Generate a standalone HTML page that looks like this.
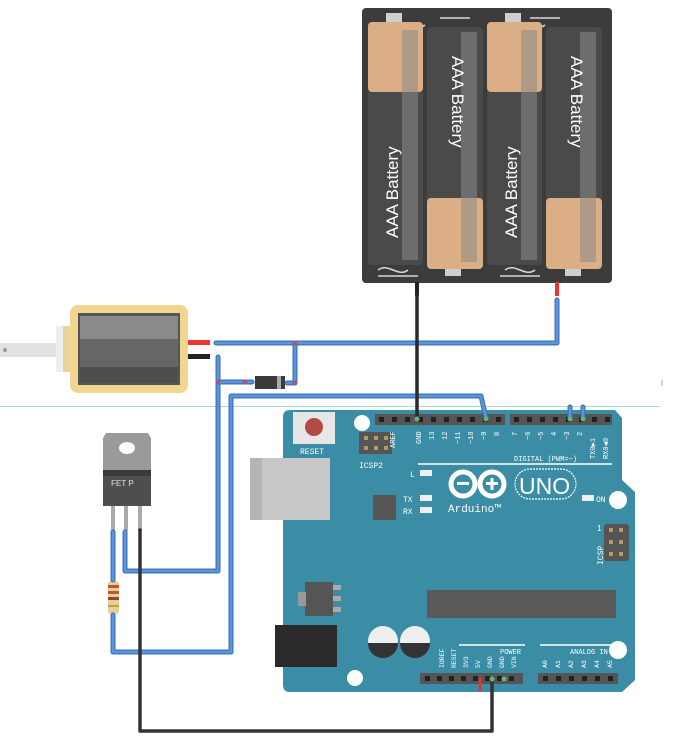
<!DOCTYPE html>
<html><head><meta charset="utf-8"><style>
html,body{margin:0;padding:0;background:#fff;}
svg{display:block;font-family:"Liberation Sans",sans-serif;}
</style></head><body>
<svg width="678" height="750" viewBox="0 0 678 750" xmlns="http://www.w3.org/2000/svg">
<line x1="0" y1="406.5" x2="660" y2="406.5" stroke="#a9d7df" stroke-width="1"/>
<line x1="662" y1="380" x2="662" y2="386" stroke="#aaa" stroke-width="1"/>

<!-- Battery pack -->
<rect x="362" y="8" width="250" height="275" rx="4" fill="#3c3c3c"/>
<g fill="none" stroke="#d8d8d8" stroke-width="1.5">
<path d="M440 18 h30 M395 25 c10 -8 20 8 30 0 M530 18 h30 M515 25 c10 -8 20 8 30 0 M378 270 c10 -8 20 8 30 0 M378 276 h40 M505 270 c10 -8 20 8 30 0 M500 276 h40"/>
</g>
<rect x="386" y="13" width="16" height="10" fill="#cfcfcf"/>
<rect x="505" y="13" width="16" height="10" fill="#cfcfcf"/>
<rect x="445" y="268" width="16" height="8" fill="#cfcfcf"/>
<rect x="565" y="268" width="16" height="8" fill="#cfcfcf"/>
<rect x="368" y="22" width="55" height="243" rx="4" fill="#4a4a4a"/>
<rect x="368" y="22" width="55" height="70" rx="4" fill="#dcae86"/>
<rect x="402" y="30" width="16" height="230" fill="#8a8a8a" opacity="0.55"/>
<text transform="translate(398,238) rotate(-90)" font-size="17" fill="#fff">AAA Battery</text>
<rect x="427" y="27" width="56" height="242" rx="4" fill="#4a4a4a"/>
<rect x="427" y="198" width="56" height="71" rx="4" fill="#dcae86"/>
<rect x="461" y="32" width="16" height="230" fill="#8a8a8a" opacity="0.55"/>
<text transform="translate(452,56) rotate(90)" font-size="17" fill="#fff">AAA Battery</text>
<rect x="487" y="22" width="55" height="243" rx="4" fill="#4a4a4a"/>
<rect x="487" y="22" width="55" height="70" rx="4" fill="#dcae86"/>
<rect x="521" y="30" width="16" height="230" fill="#8a8a8a" opacity="0.55"/>
<text transform="translate(517,238) rotate(-90)" font-size="17" fill="#fff">AAA Battery</text>
<rect x="546" y="27" width="56" height="242" rx="4" fill="#4a4a4a"/>
<rect x="546" y="198" width="56" height="71" rx="4" fill="#dcae86"/>
<rect x="580" y="32" width="16" height="230" fill="#8a8a8a" opacity="0.55"/>
<text transform="translate(571,56) rotate(90)" font-size="17" fill="#fff">AAA Battery</text>
<rect x="415" y="282" width="4" height="14" fill="#222"/>
<rect x="555" y="282" width="4" height="14" fill="#e33"/>

<!-- Solenoid -->
<rect x="0" y="343" width="58" height="14" fill="#e2e2e2"/>
<circle cx="5" cy="350" r="2" fill="#999"/>
<rect x="56" y="326" width="16" height="46" fill="#eee"/>
<rect x="63" y="326" width="9" height="46" fill="#e8d49a"/>
<rect x="70" y="305" width="118" height="88" rx="8" fill="#f1d68f"/>
<rect x="78" y="313" width="102" height="72" fill="#555"/>
<rect x="80" y="316" width="98" height="23" fill="#8a8a8a"/>
<rect x="80" y="339" width="98" height="28" fill="#666"/>
<rect x="80" y="367" width="98" height="16" fill="#4e4e4e"/>
<rect x="188" y="340" width="22" height="5" fill="#e33"/>
<rect x="188" y="354" width="22" height="5" fill="#222"/>

<!-- Arduino board -->
<path d="M290 410 H615 L622 418 V480 L635 492 V680 L622 692 H290 Q283 692 283 685 V417 Q283 410 290 410 Z" fill="#3a8da4"/>
<circle cx="362" cy="423" r="8" fill="#fff"/>
<circle cx="618" cy="500" r="9" fill="#fff"/>
<circle cx="618" cy="650" r="9" fill="#fff"/>
<circle cx="355" cy="678" r="8" fill="#fff"/>
<rect x="293" y="412" width="42" height="32" fill="#e6e6e6"/>
<circle cx="314" cy="427" r="9" fill="#b04a44"/>
<text x="300" y="454" font-size="8" fill="#fff" font-family="Liberation Mono,monospace">RESET</text>
<rect x="359" y="432" width="33" height="22" fill="#555"/>
<g fill="#b69a60"><rect x="364" y="436" width="4" height="4"/><rect x="374" y="436" width="4" height="4"/><rect x="384" y="436" width="4" height="4"/><rect x="364" y="446" width="4" height="4"/><rect x="374" y="446" width="4" height="4"/><rect x="384" y="446" width="4" height="4"/></g>
<text x="359" y="468" font-size="8" fill="#fff" font-family="Liberation Mono,monospace">ICSP2</text>
<rect x="250" y="458" width="80" height="62" fill="#c8c8c8"/>
<rect x="250" y="458" width="12" height="62" fill="#b5b5b5"/>
<rect x="375" y="414" width="130" height="11" fill="#555"/>
<rect x="510" y="414" width="102" height="11" fill="#555"/>
<g fill="#222">
<rect x="379" y="417" width="5" height="5"/><rect x="392" y="417" width="5" height="5"/><rect x="405" y="417" width="5" height="5"/><rect x="418" y="417" width="5" height="5"/><rect x="431" y="417" width="5" height="5"/><rect x="444" y="417" width="5" height="5"/><rect x="457" y="417" width="5" height="5"/><rect x="470" y="417" width="5" height="5"/><rect x="483" y="417" width="5" height="5"/><rect x="496" y="417" width="5" height="5"/>
<rect x="514" y="417" width="5" height="5"/><rect x="527" y="417" width="5" height="5"/><rect x="540" y="417" width="5" height="5"/><rect x="553" y="417" width="5" height="5"/><rect x="566" y="417" width="5" height="5"/><rect x="579" y="417" width="5" height="5"/><rect x="592" y="417" width="5" height="5"/><rect x="605" y="417" width="5" height="5"/>
</g>
<g font-size="7" fill="#fff" font-family="Liberation Mono,monospace">
<text transform="translate(395,448) rotate(-90)">AREF</text>
<text transform="translate(421,444) rotate(-90)">GND</text>
<text transform="translate(434,440) rotate(-90)">13</text>
<text transform="translate(447,440) rotate(-90)">12</text>
<text transform="translate(460,444) rotate(-90)">~11</text>
<text transform="translate(473,444) rotate(-90)">~10</text>
<text transform="translate(486,440) rotate(-90)">~9</text>
<text transform="translate(499,436) rotate(-90)">8</text>
<text transform="translate(517,436) rotate(-90)">7</text>
<text transform="translate(530,440) rotate(-90)">~6</text>
<text transform="translate(543,440) rotate(-90)">~5</text>
<text transform="translate(556,436) rotate(-90)">4</text>
<text transform="translate(569,440) rotate(-90)">~3</text>
<text transform="translate(582,436) rotate(-90)">2</text>
<text transform="translate(595,459) rotate(-90)">TX0▶1</text>
<text transform="translate(608,459) rotate(-90)">RX0◀0</text>
<text x="514" y="461">DIGITAL (PWM=~)</text>
</g>
<line x1="418" y1="464" x2="612" y2="464" stroke="#fff" stroke-width="1.5"/>
<rect x="420" y="470" width="12" height="6" fill="#eee"/>
<text x="410" y="477" font-size="8" fill="#fff" font-family="Liberation Mono,monospace">L</text>
<rect x="420" y="495" width="12" height="6" fill="#eee"/>
<text x="403" y="502" font-size="8" fill="#fff" font-family="Liberation Mono,monospace">TX</text>
<rect x="420" y="507" width="12" height="6" fill="#eee"/>
<text x="403" y="514" font-size="8" fill="#fff" font-family="Liberation Mono,monospace">RX</text>
<rect x="582" y="495" width="12" height="6" fill="#eee"/>
<text x="596" y="502" font-size="8" fill="#fff" font-family="Liberation Mono,monospace">ON</text>
<rect x="373" y="495" width="23" height="25" fill="#555"/>
<circle cx="463" cy="484" r="12" fill="none" stroke="#fff" stroke-width="5"/>
<circle cx="492" cy="484" r="12" fill="none" stroke="#fff" stroke-width="5"/>
<rect x="457" y="482" width="12" height="3" fill="#fff"/>
<rect x="486" y="482" width="12" height="3" fill="#fff"/>
<rect x="490.5" y="478" width="3" height="12" fill="#fff"/>
<rect x="515" y="469" width="61" height="30" rx="15" fill="none" stroke="#fff" stroke-width="1.2" stroke-dasharray="2 1"/>
<text x="519" y="494" font-size="23" fill="#fff">UNO</text>
<text x="448" y="512" font-size="11" fill="#fff" font-family="Liberation Mono,monospace">Arduino™</text>
<rect x="604" y="524" width="25" height="37" rx="3" fill="#555"/>
<g fill="#b69a60"><rect x="609" y="528" width="4" height="4"/><rect x="619" y="528" width="4" height="4"/><rect x="609" y="540" width="4" height="4"/><rect x="619" y="540" width="4" height="4"/><rect x="609" y="552" width="4" height="4"/><rect x="619" y="552" width="4" height="4"/></g>
<text transform="translate(603,565) rotate(-90)" font-size="8" fill="#fff" font-family="Liberation Mono,monospace">ICSP</text>
<text x="597" y="531" font-size="8" fill="#fff">1</text>
<rect x="427" y="590" width="189" height="28" fill="#5a5a5a"/>
<rect x="305" y="582" width="28" height="34" fill="#555"/>
<rect x="333" y="585" width="8" height="5" fill="#aaa"/><rect x="333" y="596" width="8" height="5" fill="#aaa"/><rect x="333" y="607" width="8" height="5" fill="#aaa"/>
<rect x="298" y="592" width="8" height="14" fill="#999"/>
<rect x="275" y="625" width="62" height="42" fill="#2a2a2a"/>
<circle cx="383" cy="641" r="15" fill="#eee"/><path d="M368 643 A15 15 0 0 0 398 643 Z" fill="#333"/>
<circle cx="415" cy="641" r="15" fill="#eee"/><path d="M400 643 A15 15 0 0 0 430 643 Z" fill="#333"/>
<line x1="459" y1="645" x2="525" y2="645" stroke="#fff" stroke-width="1.5"/>
<line x1="540" y1="645" x2="615" y2="645" stroke="#fff" stroke-width="1.5"/>
<text x="500" y="654" font-size="7" fill="#fff" font-family="Liberation Mono,monospace">POWER</text>
<text x="570" y="654" font-size="7" fill="#fff" font-family="Liberation Mono,monospace">ANALOG IN</text>
<g font-size="6.5" fill="#fff" font-family="Liberation Mono,monospace">
<text transform="translate(444,668) rotate(-90)">IOREF</text>
<text transform="translate(456,668) rotate(-90)">RESET</text>
<text transform="translate(468,668) rotate(-90)">3V3</text>
<text transform="translate(480,668) rotate(-90)">5V</text>
<text transform="translate(492,668) rotate(-90)">GND</text>
<text transform="translate(504,668) rotate(-90)">GND</text>
<text transform="translate(516,668) rotate(-90)">VIN</text>
<text transform="translate(547,668) rotate(-90)">A0</text>
<text transform="translate(560,668) rotate(-90)">A1</text>
<text transform="translate(573,668) rotate(-90)">A2</text>
<text transform="translate(586,668) rotate(-90)">A3</text>
<text transform="translate(599,668) rotate(-90)">A4</text>
<text transform="translate(612,668) rotate(-90)">A5</text>
</g>
<rect x="420" y="673" width="103" height="11" fill="#555"/>
<rect x="538" y="673" width="80" height="11" fill="#555"/>
<g fill="#222">
<rect x="425" y="676" width="5" height="5"/><rect x="437" y="676" width="5" height="5"/><rect x="449" y="676" width="5" height="5"/><rect x="461" y="676" width="5" height="5"/><rect x="473" y="676" width="5" height="5"/><rect x="485" y="676" width="5" height="5"/><rect x="497" y="676" width="5" height="5"/><rect x="509" y="676" width="5" height="5"/>
<rect x="543" y="676" width="5" height="5"/><rect x="556" y="676" width="5" height="5"/><rect x="569" y="676" width="5" height="5"/><rect x="582" y="676" width="5" height="5"/><rect x="595" y="676" width="5" height="5"/><rect x="608" y="676" width="5" height="5"/>
</g>

<!-- FET -->
<path d="M106 433 H148 L151 438 V470 H103 V438 Z" fill="#9a9a9a"/>
<ellipse cx="127" cy="448" rx="8" ry="6" fill="#fff"/>
<rect x="103" y="470" width="48" height="36" fill="#4e4e4e"/>
<rect x="103" y="470" width="48" height="6" fill="#3a3a3a"/>
<text x="111" y="486" font-size="8" fill="#bbb" font-weight="bold">FET P</text>
<rect x="111" y="506" width="4" height="25" fill="#aaa"/>
<rect x="124" y="506" width="4" height="25" fill="#aaa"/>
<rect x="138" y="506" width="4" height="25" fill="#aaa"/>

<!-- Resistor -->
<rect x="108" y="581" width="11" height="33" rx="3" fill="#e7cf9a"/>
<rect x="108" y="585" width="11" height="3" fill="#c0553a"/>
<rect x="108" y="591" width="11" height="3" fill="#c0553a"/>
<rect x="108" y="597" width="11" height="3" fill="#8a4a2a"/>
<rect x="108" y="605" width="11" height="2" fill="#c9a040"/>

<!-- Diode -->
<rect x="255" y="376" width="30" height="13" fill="#3a3a3a"/>
<rect x="277" y="376" width="4" height="13" fill="#aaa"/>

<!-- Wires -->
<g fill="none" stroke-linejoin="round" stroke-linecap="round">
<g stroke="#3d73b8" stroke-width="5">
<path d="M216 343 H557 V300"/>
<path d="M295 343 V383 H287"/>
<path d="M218 357 V571 H125 V532"/>
<path d="M218 382 H252"/>
<path d="M231 652 V396 H481 L486 418"/>
<path d="M113 532 V580"/>
<path d="M113 615 V652 H231"/>
<path d="M570 407 V418 M583 407 V418"/>
</g>
<g stroke="#5b95dd" stroke-width="2.5">
<path d="M216 343 H557 V300"/>
<path d="M295 343 V383 H287"/>
<path d="M218 357 V571 H125 V532"/>
<path d="M218 382 H252"/>
<path d="M231 652 V396 H481 L486 418"/>
<path d="M113 532 V580"/>
<path d="M113 615 V652 H231"/>
<path d="M570 407 V418 M583 407 V418"/>
</g>
<path d="M417 295 V418" stroke="#2a2a2a" stroke-width="3.5"/>
<path d="M140 530 V731 H492 V679" stroke="#333" stroke-width="3.5"/>
<path d="M480 679 V690" stroke="#d33" stroke-width="3"/>
</g>
<g fill="#9b5a88"><circle cx="295" cy="343" r="2.5"/><circle cx="295" cy="383" r="2.5"/><circle cx="218" cy="382" r="2.5"/><circle cx="245" cy="382" r="2.5"/></g>
<g fill="#5db87a"><circle cx="417" cy="419" r="2.5"/><circle cx="486" cy="419" r="2.5"/><circle cx="570" cy="419" r="2.5"/><circle cx="583" cy="419" r="2.5"/><circle cx="492" cy="679" r="2.5"/><circle cx="504" cy="679" r="2.5"/></g>
</svg>
</body></html>
